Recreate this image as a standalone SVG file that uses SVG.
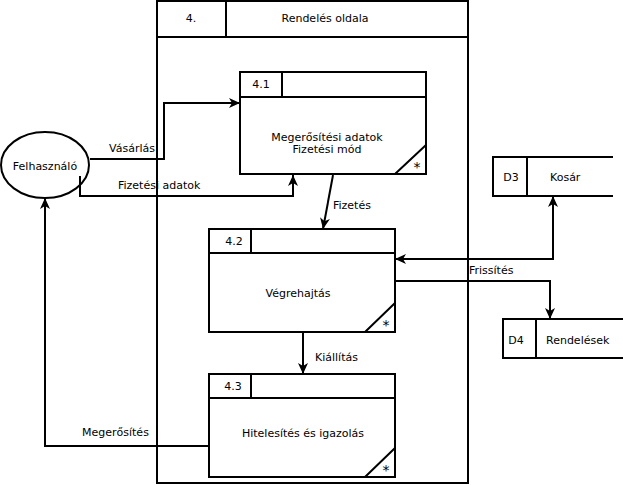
<svg xmlns="http://www.w3.org/2000/svg" width="623" height="485" viewBox="0 0 623 485">
<defs>
<marker id="arr" markerUnits="userSpaceOnUse" markerWidth="12" markerHeight="10" refX="11" refY="5" orient="auto-start-reverse" viewBox="0 0 12 10">
<path d="M0,0 L11,5 L0,10 L3,5 z" fill="#000"/>
</marker>
<style>
.s{fill:#fff;stroke:#000;stroke-width:2}
.l{fill:none;stroke:#000;stroke-width:2}
.c{fill:none;stroke:#000;stroke-width:2;marker-end:url(#arr)}
text{font-family:"DejaVu Sans","Verdana",sans-serif;font-size:11px;fill:#000}
.m{text-anchor:middle}
.a{font-size:14px}
</style>
</defs>
<rect width="623" height="485" fill="#fff"/>
<g id="container">
<rect class="s" x="157" y="1" width="311" height="482" style="fill:none"/>
<path class="l" d="M157,37 H468 M226,1 V37"/>
<text class="m" x="191" y="22">4.</text>
<text class="m" x="325" y="22">Rendelés oldala</text>
</g>
<g id="user">
<ellipse class="s" cx="45" cy="165" rx="44" ry="33"/>
<text class="m" x="45" y="170">Felhasználó</text>
</g>
<g id="p41">
<rect class="s" x="240" y="72" width="186" height="102"/>
<path class="l" d="M240,97 H426 M282,72 V97 M395,174 L426,145"/>
<text class="m" x="261" y="88">4.1</text>
<text class="m" x="327" y="141">Megerősítési adatok</text>
<text class="m" x="327" y="153">Fizetési mód</text>
<text class="m a" x="417" y="172">*</text>
</g>
<g id="p42">
<rect class="s" x="209" y="229" width="186" height="103"/>
<path class="l" d="M209,253 H395 M251,229 V253 M365,332 L395,303"/>
<text class="m" x="234" y="245">4.2</text>
<text class="m" x="298" y="297">Végrehajtás</text>
<text class="m a" x="386" y="330">*</text>
</g>
<g id="p43">
<rect class="s" x="209" y="374" width="186" height="103"/>
<path class="l" d="M209,398 H395 M251,374 V398 M365,477 L395,448"/>
<text class="m" x="233" y="390">4.3</text>
<text class="m" x="303" y="437">Hitelesítés és igazolás</text>
<text class="m a" x="386" y="475">*</text>
</g>
<g id="d3">
<path class="l" d="M613,157 H493 V196 H613 M527,157 V196"/>
<text class="m" x="511" y="181">D3</text>
<text x="550" y="181">Kosár</text>
</g>
<g id="d4">
<path class="l" d="M623,319 H503 V358 H623 M536,319 V358"/>
<text class="m" x="516" y="344">D4</text>
<text x="546" y="344">Rendelések</text>
</g>
<g id="connectors">
<path class="c" d="M90,159 H164 V103 H240"/>
<path class="c" d="M80,176 V196 H293 V175"/>
<path class="c" d="M333,175 L323,229"/>
<path class="c" d="M553,196 V259 H395" style="marker-start:url(#arr)"/>
<path class="c" d="M395,281 H550 V319"/>
<path class="c" d="M303,332 V374"/>
<path class="c" d="M209,446 H45 V198"/>
<text x="109" y="152">Vásárlás</text>
<text x="118" y="189">Fizetési adatok</text>
<text x="333" y="209">Fizetés</text>
<text x="469" y="274">Frissítés</text>
<text x="315" y="361">Kiállítás</text>
<text x="82" y="436">Megerősítés</text>
</g>
</svg>
